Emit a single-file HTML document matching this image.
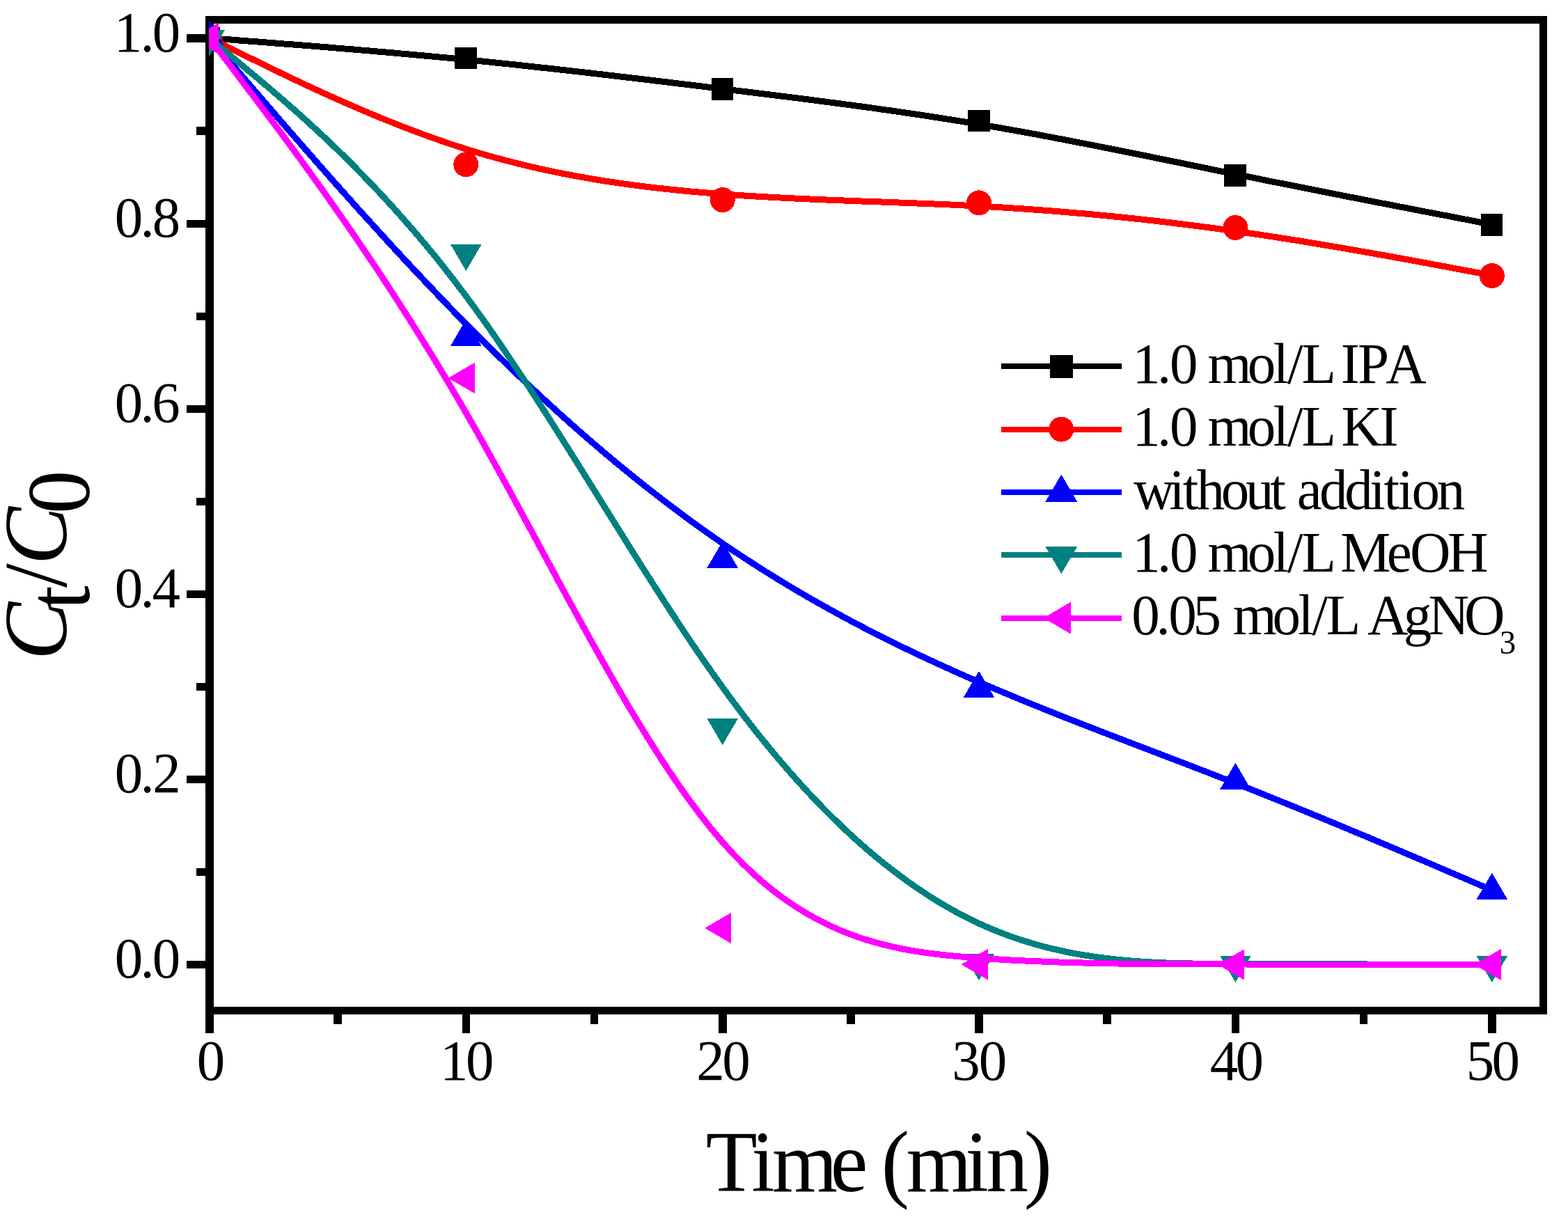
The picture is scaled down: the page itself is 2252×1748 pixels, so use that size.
<!DOCTYPE html>
<html lang="en"><head><meta charset="utf-8"><title>Ct/C0 vs Time</title>
<style>html,body{margin:0;padding:0;background:#fff}body{width:2252px;height:1748px;overflow:hidden}svg{display:block}text{font-family:"Liberation Serif","Times New Roman",serif;fill:#000;font-kerning:none;font-variant-ligatures:none;white-space:pre}</style></head><body>
<svg width="2252" height="1748" viewBox="0 0 2252 1748">
<rect width="2252" height="1748" fill="#fff"/>
<defs><clipPath id="plot"><rect x="300" y="23" width="1922" height="1434"/></clipPath></defs>
<g shape-rendering="crispEdges" fill="#000">
<rect x="295" y="23" width="1927" height="11"/>
<rect x="295" y="1446" width="1927" height="11"/>
<rect x="295" y="23" width="12" height="1434"/>
<rect x="2211" y="23" width="11" height="1434"/>
<rect x="268" y="1379.7" width="28" height="11.6"/>
<rect x="282" y="1246.7" width="14" height="11.6"/>
<rect x="268" y="1113.6" width="28" height="11.6"/>
<rect x="282" y="980.6" width="14" height="11.6"/>
<rect x="268" y="847.6" width="28" height="11.6"/>
<rect x="282" y="714.6" width="14" height="11.6"/>
<rect x="268" y="581.5" width="28" height="11.6"/>
<rect x="282" y="448.5" width="14" height="11.6"/>
<rect x="268" y="315.5" width="28" height="11.6"/>
<rect x="282" y="182.4" width="14" height="11.6"/>
<rect x="268" y="49.4" width="28" height="11.6"/>
<rect x="295.1" y="1456" width="11.6" height="28"/>
<rect x="479.3" y="1456" width="11.6" height="14.5"/>
<rect x="663.5" y="1456" width="11.6" height="28"/>
<rect x="847.7" y="1456" width="11.6" height="14.5"/>
<rect x="1031.9" y="1456" width="11.6" height="28"/>
<rect x="1216.0" y="1456" width="11.6" height="14.5"/>
<rect x="1400.2" y="1456" width="11.6" height="28"/>
<rect x="1584.4" y="1456" width="11.6" height="14.5"/>
<rect x="1768.6" y="1456" width="11.6" height="28"/>
<rect x="1952.8" y="1456" width="11.6" height="14.5"/>
<rect x="2137.0" y="1456" width="11.6" height="28"/>
</g>
<text transform="scale(0.975,1)" x="168.99 206.55 224.38" y="1404.0" font-size="83" >0.0</text>
<text transform="scale(0.975,1)" x="168.99 206.55 224.84" y="1137.9" font-size="83" >0.2</text>
<text transform="scale(0.975,1)" x="168.99 206.55 224.22" y="871.9" font-size="83" >0.4</text>
<text transform="scale(0.975,1)" x="168.99 206.55 223.83" y="605.8" font-size="83" >0.6</text>
<text transform="scale(0.975,1)" x="168.99 206.55 224.38" y="339.8" font-size="83" >0.8</text>
<text transform="scale(0.975,1)" x="167.84 206.55 224.38" y="73.7" font-size="83" >1.0</text>
<text transform="scale(0.975,1)" x="290.02" y="1551.0" font-size="83" >0</text>
<text transform="scale(0.975,1)" x="648.23 686.10" y="1551.0" font-size="83" >10</text>
<text transform="scale(0.975,1)" x="1026.03 1063.93" y="1551.0" font-size="83" >20</text>
<text transform="scale(0.975,1)" x="1402.41 1441.75" y="1551.0" font-size="83" >30</text>
<text transform="scale(0.975,1)" x="1782.29 1819.99" y="1551.0" font-size="83" >40</text>
<text transform="scale(0.975,1)" x="2159.69 2197.51" y="1551.0" font-size="83" >50</text>
<g clip-path="url(#plot)" shape-rendering="crispEdges">
<path d="M300.9,54.7 L300.9,54.7 L300.9,54.7 L301.0,54.7 L301.2,54.7 L301.5,54.7 L301.9,54.8 L302.4,54.8 L303.2,54.9 L304.1,54.9 L305.3,55.0 L306.8,55.2 L308.6,55.3 L310.7,55.5 L313.1,55.6 L315.9,55.9 L319.1,56.1 L322.7,56.4 L326.8,56.7 L331.4,57.0 L336.4,57.4 L342.0,57.9 L348.2,58.3 L354.9,58.9 L362.3,59.4 L370.3,60.0 L378.9,60.7 L388.1,61.4 L397.8,62.2 L408.1,63.0 L418.9,63.8 L430.2,64.7 L441.9,65.6 L454.0,66.6 L466.6,67.6 L479.5,68.7 L492.8,69.8 L506.4,70.9 L520.2,72.1 L534.4,73.3 L548.8,74.6 L563.4,75.8 L578.1,77.2 L593.1,78.5 L608.2,79.9 L623.4,81.3 L638.6,82.7 L653.9,84.2 L669.3,85.7 L684.6,87.2 L700.0,88.8 L715.3,90.4 L730.7,92.0 L746.0,93.6 L761.4,95.3 L776.7,97.0 L792.1,98.6 L807.4,100.4 L822.8,102.1 L838.1,103.8 L853.5,105.6 L868.8,107.4 L884.2,109.2 L899.5,111.0 L914.9,112.8 L930.2,114.6 L945.6,116.5 L960.9,118.3 L976.3,120.2 L991.6,122.0 L1007.0,123.9 L1022.3,125.8 L1037.7,127.6 L1053.0,129.5 L1068.4,131.4 L1083.7,133.3 L1099.1,135.2 L1114.4,137.1 L1129.8,139.0 L1145.1,140.9 L1160.5,142.9 L1175.8,144.9 L1191.2,146.9 L1206.5,148.9 L1221.8,150.9 L1237.2,153.0 L1252.5,155.1 L1267.9,157.3 L1283.2,159.4 L1298.6,161.7 L1313.9,163.9 L1329.3,166.2 L1344.6,168.6 L1360.0,171.0 L1375.3,173.4 L1390.7,175.9 L1406.0,178.5 L1421.4,181.1 L1436.7,183.7 L1452.1,186.5 L1467.4,189.2 L1482.8,192.0 L1498.1,194.9 L1513.5,197.8 L1528.8,200.7 L1544.2,203.7 L1559.5,206.7 L1574.9,209.7 L1590.2,212.7 L1605.6,215.8 L1620.9,218.9 L1636.3,222.0 L1651.6,225.1 L1667.0,228.3 L1682.3,231.4 L1697.7,234.5 L1713.0,237.7 L1728.4,240.8 L1743.7,244.0 L1759.1,247.1 L1774.4,250.2 L1789.8,253.3 L1805.1,256.4 L1820.3,259.5 L1835.5,262.5 L1850.6,265.5 L1865.6,268.5 L1880.3,271.4 L1894.9,274.3 L1909.3,277.2 L1923.5,279.9 L1937.3,282.7 L1950.9,285.3 L1964.2,287.9 L1977.1,290.5 L1989.7,292.9 L2001.8,295.3 L2013.5,297.5 L2024.8,299.7 L2035.6,301.8 L2045.9,303.8 L2055.6,305.7 L2064.8,307.4 L2073.4,309.1 L2081.4,310.6 L2088.8,312.1 L2095.5,313.4 L2101.7,314.6 L2107.3,315.6 L2112.3,316.6 L2116.9,317.5 L2121.0,318.3 L2124.6,319.0 L2127.8,319.6 L2130.6,320.1 L2133.0,320.6 L2135.1,321.0 L2136.9,321.3 L2138.4,321.6 L2139.6,321.9 L2140.5,322.1 L2141.3,322.2 L2141.8,322.3 L2142.2,322.4 L2142.5,322.4 L2142.7,322.5 L2142.8,322.5 L2142.8,322.5 L2142.8,322.5" fill="none" stroke-width="9" stroke-linejoin="round" stroke="#000000"/>
<rect x="284.8" y="39.4" width="31.6" height="31.6" fill="#000000"/>
<rect x="653.2" y="67.7" width="31.6" height="31.6" fill="#000000"/>
<rect x="1021.6" y="112.2" width="31.6" height="31.6" fill="#000000"/>
<rect x="1389.9" y="157.7" width="31.6" height="31.6" fill="#000000"/>
<rect x="1758.3" y="236.2" width="31.6" height="31.6" fill="#000000"/>
<rect x="2126.7" y="307.2" width="31.6" height="31.6" fill="#000000"/>
<path d="M300.9,54.7 L300.9,54.7 L300.9,54.7 L301.0,54.8 L301.2,54.8 L301.5,55.0 L301.9,55.2 L302.4,55.4 L303.2,55.8 L304.1,56.3 L305.3,56.9 L306.8,57.6 L308.6,58.5 L310.7,59.5 L313.1,60.7 L315.9,62.1 L319.1,63.6 L322.7,65.4 L326.8,67.4 L331.4,69.7 L336.4,72.2 L342.0,74.9 L348.2,77.9 L354.9,81.3 L362.3,84.9 L370.3,88.8 L378.9,93.0 L388.1,97.5 L397.8,102.2 L408.1,107.2 L418.9,112.4 L430.2,117.7 L441.9,123.2 L454.0,128.8 L466.6,134.6 L479.5,140.4 L492.8,146.3 L506.4,152.2 L520.2,158.2 L534.4,164.2 L548.8,170.1 L563.4,176.0 L578.1,181.8 L593.1,187.5 L608.2,193.2 L623.4,198.6 L638.6,204.0 L653.9,209.1 L669.3,214.0 L684.6,218.8 L700.0,223.3 L715.3,227.5 L730.7,231.6 L746.0,235.5 L761.4,239.2 L776.7,242.7 L792.1,246.0 L807.4,249.1 L822.8,252.1 L838.1,254.8 L853.5,257.5 L868.8,260.0 L884.2,262.3 L899.5,264.5 L914.9,266.5 L930.2,268.5 L945.6,270.3 L960.9,271.9 L976.3,273.5 L991.6,275.0 L1007.0,276.3 L1022.3,277.6 L1037.7,278.8 L1053.0,279.9 L1068.4,281.0 L1083.7,281.9 L1099.1,282.8 L1114.4,283.7 L1129.8,284.4 L1145.1,285.2 L1160.5,285.9 L1175.8,286.5 L1191.2,287.2 L1206.5,287.8 L1221.8,288.4 L1237.2,289.0 L1252.5,289.5 L1267.9,290.1 L1283.2,290.7 L1298.6,291.3 L1313.9,291.9 L1329.3,292.5 L1344.6,293.1 L1360.0,293.8 L1375.3,294.5 L1390.7,295.3 L1406.0,296.1 L1421.4,296.9 L1436.7,297.8 L1452.1,298.8 L1467.4,299.8 L1482.8,300.9 L1498.1,302.0 L1513.5,303.2 L1528.8,304.5 L1544.2,305.8 L1559.5,307.1 L1574.9,308.5 L1590.2,310.0 L1605.6,311.5 L1620.9,313.1 L1636.3,314.7 L1651.6,316.4 L1667.0,318.2 L1682.3,320.0 L1697.7,321.9 L1713.0,323.8 L1728.4,325.8 L1743.7,327.8 L1759.1,329.9 L1774.4,332.0 L1789.8,334.3 L1805.1,336.5 L1820.3,338.8 L1835.5,341.2 L1850.6,343.5 L1865.6,345.9 L1880.3,348.3 L1894.9,350.7 L1909.3,353.1 L1923.5,355.5 L1937.3,357.9 L1950.9,360.3 L1964.2,362.6 L1977.1,364.9 L1989.7,367.1 L2001.8,369.3 L2013.5,371.4 L2024.8,373.5 L2035.6,375.5 L2045.9,377.4 L2055.6,379.2 L2064.8,380.9 L2073.4,382.5 L2081.4,384.0 L2088.8,385.4 L2095.5,386.7 L2101.7,387.8 L2107.3,388.9 L2112.3,389.8 L2116.9,390.7 L2121.0,391.4 L2124.6,392.1 L2127.8,392.7 L2130.6,393.2 L2133.0,393.7 L2135.1,394.1 L2136.9,394.4 L2138.4,394.7 L2139.6,394.9 L2140.5,395.1 L2141.3,395.2 L2141.8,395.3 L2142.2,395.4 L2142.5,395.5 L2142.7,395.5 L2142.8,395.5 L2142.8,395.5 L2142.8,395.5" fill="none" stroke-width="9" stroke-linejoin="round" stroke="#ff0000"/>
<circle cx="300.9" cy="55.2" r="18.0" fill="#ff0000"/>
<circle cx="669.3" cy="236.3" r="18.0" fill="#ff0000"/>
<circle cx="1037.7" cy="287.1" r="18.0" fill="#ff0000"/>
<circle cx="1406.0" cy="291.3" r="18.0" fill="#ff0000"/>
<circle cx="1774.4" cy="327.0" r="18.0" fill="#ff0000"/>
<circle cx="2142.8" cy="396.0" r="18.0" fill="#ff0000"/>
<path d="M300.9,54.7 L300.9,54.7 L300.9,54.7 L301.0,54.8 L301.2,55.0 L301.5,55.3 L301.9,55.8 L302.4,56.5 L303.2,57.3 L304.1,58.5 L305.3,59.9 L306.8,61.6 L308.6,63.6 L310.7,66.1 L313.1,68.9 L315.9,72.2 L319.1,75.9 L322.7,80.1 L326.8,84.9 L331.4,90.2 L336.4,96.1 L342.0,102.6 L348.2,109.8 L354.9,117.6 L362.3,126.2 L370.3,135.5 L378.9,145.5 L388.1,156.2 L397.8,167.5 L408.1,179.4 L418.9,191.8 L430.2,204.7 L441.9,218.2 L454.0,232.0 L466.6,246.3 L479.5,260.9 L492.8,275.8 L506.4,291.0 L520.2,306.4 L534.4,322.0 L548.8,337.8 L563.4,353.8 L578.1,369.7 L593.1,385.8 L608.2,401.8 L623.4,417.8 L638.6,433.8 L653.9,449.6 L669.3,465.3 L684.6,480.7 L700.0,496.0 L715.3,511.1 L730.7,526.0 L746.0,540.7 L761.4,555.2 L776.7,569.5 L792.1,583.6 L807.4,597.5 L822.8,611.2 L838.1,624.7 L853.5,638.0 L868.8,651.0 L884.2,663.9 L899.5,676.5 L914.9,688.9 L930.2,701.1 L945.6,713.1 L960.9,724.9 L976.3,736.4 L991.6,747.8 L1007.0,758.9 L1022.3,769.7 L1037.7,780.4 L1053.0,790.8 L1068.4,800.9 L1083.7,810.9 L1099.1,820.7 L1114.4,830.2 L1129.8,839.6 L1145.1,848.7 L1160.5,857.7 L1175.8,866.4 L1191.2,875.0 L1206.5,883.4 L1221.8,891.7 L1237.2,899.8 L1252.5,907.7 L1267.9,915.5 L1283.2,923.1 L1298.6,930.6 L1313.9,938.0 L1329.3,945.2 L1344.6,952.3 L1360.0,959.3 L1375.3,966.2 L1390.7,973.0 L1406.0,979.7 L1421.4,986.2 L1436.7,992.7 L1452.1,999.1 L1467.4,1005.5 L1482.8,1011.7 L1498.1,1017.9 L1513.5,1024.1 L1528.8,1030.2 L1544.2,1036.2 L1559.5,1042.2 L1574.9,1048.2 L1590.2,1054.1 L1605.6,1060.0 L1620.9,1065.9 L1636.3,1071.8 L1651.6,1077.6 L1667.0,1083.5 L1682.3,1089.4 L1697.7,1095.2 L1713.0,1101.1 L1728.4,1107.1 L1743.7,1113.0 L1759.1,1119.0 L1774.4,1125.0 L1789.8,1131.1 L1805.1,1137.1 L1820.3,1143.3 L1835.5,1149.4 L1850.6,1155.5 L1865.6,1161.6 L1880.3,1167.6 L1894.9,1173.6 L1909.3,1179.6 L1923.5,1185.4 L1937.3,1191.2 L1950.9,1196.9 L1964.2,1202.4 L1977.1,1207.9 L1989.7,1213.2 L2001.8,1218.3 L2013.5,1223.3 L2024.8,1228.1 L2035.6,1232.7 L2045.9,1237.0 L2055.6,1241.2 L2064.8,1245.1 L2073.4,1248.8 L2081.4,1252.3 L2088.8,1255.4 L2095.5,1258.3 L2101.7,1260.9 L2107.3,1263.3 L2112.3,1265.5 L2116.9,1267.5 L2121.0,1269.2 L2124.6,1270.8 L2127.8,1272.2 L2130.6,1273.4 L2133.0,1274.4 L2135.1,1275.3 L2136.9,1276.0 L2138.4,1276.7 L2139.6,1277.2 L2140.5,1277.6 L2141.3,1277.9 L2141.8,1278.2 L2142.2,1278.3 L2142.5,1278.5 L2142.7,1278.5 L2142.8,1278.6 L2142.8,1278.6 L2142.8,1278.6" fill="none" stroke-width="9" stroke-linejoin="round" stroke="#0000ff"/>
<polygon points="278.6,67.9 323.2,67.9 300.9,29.7" fill="#0000ff"/>
<polygon points="647.0,496.8 691.6,496.8 669.3,458.6" fill="#0000ff"/>
<polygon points="1015.4,815.7 1060.0,815.7 1037.7,777.5" fill="#0000ff"/>
<polygon points="1383.7,1001.9 1428.3,1001.9 1406.0,963.7" fill="#0000ff"/>
<polygon points="1752.1,1133.9 1796.7,1133.9 1774.4,1095.7" fill="#0000ff"/>
<polygon points="2120.5,1291.8 2165.1,1291.8 2142.8,1253.6" fill="#0000ff"/>
<path d="M300.9,54.7 L300.9,54.7 L300.9,54.7 L301.0,54.8 L301.2,54.9 L301.5,55.2 L301.9,55.5 L302.4,56.0 L303.2,56.6 L304.1,57.4 L305.3,58.4 L306.8,59.7 L308.6,61.1 L310.7,62.9 L313.1,64.9 L315.9,67.3 L319.1,69.9 L322.7,73.0 L326.8,76.4 L331.4,80.2 L336.4,84.5 L342.0,89.1 L348.2,94.3 L354.9,100.0 L362.3,106.1 L370.3,112.8 L378.9,120.0 L388.1,127.8 L397.8,136.2 L408.1,145.0 L418.9,154.5 L430.2,164.5 L441.9,175.1 L454.0,186.2 L466.6,197.9 L479.5,210.2 L492.8,223.1 L506.4,236.6 L520.2,250.7 L534.4,265.4 L548.8,280.7 L563.4,296.6 L578.1,313.1 L593.1,330.2 L608.2,347.9 L623.4,366.3 L638.6,385.3 L653.9,405.0 L669.3,425.3 L684.6,446.2 L700.0,467.7 L715.3,489.8 L730.7,512.4 L746.0,535.4 L761.4,558.7 L776.7,582.5 L792.1,606.5 L807.4,630.7 L822.8,655.1 L838.1,679.7 L853.5,704.3 L868.8,729.0 L884.2,753.6 L899.5,778.1 L914.9,802.6 L930.2,826.8 L945.6,850.8 L960.9,874.5 L976.3,897.9 L991.6,920.9 L1007.0,943.5 L1022.3,965.5 L1037.7,987.0 L1053.0,1008.0 L1068.4,1028.3 L1083.7,1048.1 L1099.1,1067.2 L1114.4,1085.8 L1129.8,1103.7 L1145.1,1121.1 L1160.5,1137.9 L1175.8,1154.1 L1191.2,1169.7 L1206.5,1184.7 L1221.8,1199.1 L1237.2,1213.0 L1252.5,1226.2 L1267.9,1238.9 L1283.2,1250.9 L1298.6,1262.4 L1313.9,1273.3 L1329.3,1283.6 L1344.6,1293.4 L1360.0,1302.5 L1375.3,1311.1 L1390.7,1319.0 L1406.0,1326.4 L1421.4,1333.2 L1436.7,1339.5 L1452.1,1345.2 L1467.4,1350.4 L1482.8,1355.1 L1498.1,1359.4 L1513.5,1363.2 L1528.8,1366.6 L1544.2,1369.7 L1559.5,1372.3 L1574.9,1374.6 L1590.2,1376.6 L1605.6,1378.3 L1620.9,1379.8 L1636.3,1380.9 L1651.6,1381.9 L1667.0,1382.7 L1682.3,1383.3 L1697.7,1383.7 L1713.0,1384.0 L1728.4,1384.3 L1743.7,1384.4 L1759.1,1384.5 L1774.4,1384.6 L1789.8,1384.6 L1805.1,1384.7 L1820.3,1384.7 L1835.5,1384.7 L1850.6,1384.8 L1865.6,1384.8 L1880.3,1384.8 L1894.9,1384.9 L1909.3,1384.9 L1923.5,1384.9 L1937.3,1384.9 L1950.9,1384.9 L1964.2,1385.0 L1977.1,1385.0 L1989.7,1385.0 L2001.8,1385.0 L2013.5,1385.0 L2024.8,1385.0 L2035.6,1385.0 L2045.9,1385.0 L2055.6,1385.0 L2064.8,1385.0 L2073.4,1385.0 L2081.4,1385.0 L2088.8,1385.0 L2095.5,1385.0 L2101.7,1385.0 L2107.3,1385.0 L2112.3,1385.0 L2116.9,1385.0 L2121.0,1385.0 L2124.6,1385.0 L2127.8,1385.0 L2130.6,1385.0 L2133.0,1385.0 L2135.1,1385.0 L2136.9,1385.0 L2138.4,1385.0 L2139.6,1385.0 L2140.5,1385.0 L2141.3,1385.0 L2141.8,1385.0 L2142.2,1385.0 L2142.5,1385.0 L2142.7,1385.0 L2142.8,1385.0 L2142.8,1385.0 L2142.8,1385.0" fill="none" stroke-width="9" stroke-linejoin="round" stroke="#008080"/>
<polygon points="278.6,42.5 323.2,42.5 300.9,80.7" fill="#008080"/>
<polygon points="647.0,351.0 691.6,351.0 669.3,389.2" fill="#008080"/>
<polygon points="1015.4,1031.9 1060.0,1031.9 1037.7,1070.1" fill="#008080"/>
<polygon points="1383.7,1370.1 1428.3,1370.1 1406.0,1408.3" fill="#008080"/>
<polygon points="1752.1,1372.8 1796.7,1372.8 1774.4,1411.0" fill="#008080"/>
<polygon points="2120.5,1372.8 2165.1,1372.8 2142.8,1411.0" fill="#008080"/>
<path d="M300.9,54.7 L300.9,54.7 L300.9,54.7 L301.0,54.9 L301.2,55.1 L301.5,55.4 L301.9,56.0 L302.4,56.7 L303.2,57.7 L304.1,59.0 L305.3,60.6 L306.8,62.5 L308.6,64.9 L310.7,67.6 L313.1,70.8 L315.9,74.5 L319.1,78.8 L322.7,83.6 L326.8,89.0 L331.4,95.0 L336.4,101.8 L342.0,109.2 L348.2,117.3 L354.9,126.3 L362.3,136.0 L370.3,146.6 L378.9,158.0 L388.1,170.2 L397.8,183.3 L408.1,197.1 L418.9,211.7 L430.2,227.1 L441.9,243.3 L454.0,260.1 L466.6,277.7 L479.5,296.1 L492.8,315.1 L506.4,334.8 L520.2,355.1 L534.4,376.2 L548.8,397.8 L563.4,420.2 L578.1,443.1 L593.1,466.6 L608.2,490.7 L623.4,515.4 L638.6,540.7 L653.9,566.5 L669.3,592.9 L684.6,619.7 L700.0,647.1 L715.3,674.8 L730.7,702.7 L746.0,731.0 L761.4,759.3 L776.7,787.8 L792.1,816.2 L807.4,844.6 L822.8,872.8 L838.1,900.7 L853.5,928.4 L868.8,955.7 L884.2,982.6 L899.5,1008.9 L914.9,1034.6 L930.2,1059.6 L945.6,1083.9 L960.9,1107.3 L976.3,1129.9 L991.6,1151.4 L1007.0,1172.0 L1022.3,1191.3 L1037.7,1209.5 L1053.0,1226.4 L1068.4,1242.1 L1083.7,1256.6 L1099.1,1270.0 L1114.4,1282.3 L1129.8,1293.5 L1145.1,1303.8 L1160.5,1313.1 L1175.8,1321.6 L1191.2,1329.2 L1206.5,1336.0 L1221.8,1342.1 L1237.2,1347.6 L1252.5,1352.3 L1267.9,1356.5 L1283.2,1360.2 L1298.6,1363.4 L1313.9,1366.1 L1329.3,1368.4 L1344.6,1370.4 L1360.0,1372.2 L1375.3,1373.6 L1390.7,1374.9 L1406.0,1376.1 L1421.4,1377.1 L1436.7,1378.1 L1452.1,1379.0 L1467.4,1379.8 L1482.8,1380.5 L1498.1,1381.1 L1513.5,1381.7 L1528.8,1382.3 L1544.2,1382.7 L1559.5,1383.1 L1574.9,1383.5 L1590.2,1383.8 L1605.6,1384.0 L1620.9,1384.3 L1636.3,1384.4 L1651.6,1384.6 L1667.0,1384.7 L1682.3,1384.8 L1697.7,1384.8 L1713.0,1384.9 L1728.4,1384.9 L1743.7,1384.9 L1759.1,1384.9 L1774.4,1385.0 L1789.8,1385.0 L1805.1,1385.0 L1820.3,1385.0 L1835.5,1385.0 L1850.6,1385.0 L1865.6,1385.0 L1880.3,1385.0 L1894.9,1385.0 L1909.3,1385.0 L1923.5,1385.0 L1937.3,1385.0 L1950.9,1385.0 L1964.2,1385.0 L1977.1,1385.0 L1989.7,1385.0 L2001.8,1385.0 L2013.5,1385.0 L2024.8,1385.0 L2035.6,1385.0 L2045.9,1385.0 L2055.6,1385.0 L2064.8,1385.0 L2073.4,1385.0 L2081.4,1385.0 L2088.8,1385.0 L2095.5,1385.0 L2101.7,1385.0 L2107.3,1385.0 L2112.3,1385.0 L2116.9,1385.0 L2121.0,1385.0 L2124.6,1385.0 L2127.8,1385.0 L2130.6,1385.0 L2133.0,1385.0 L2135.1,1385.0 L2136.9,1385.0 L2138.4,1385.0 L2139.6,1385.0 L2140.5,1385.0 L2141.3,1385.0 L2141.8,1385.0 L2142.2,1385.0 L2142.5,1385.0 L2142.7,1385.0 L2142.8,1385.0 L2142.8,1385.0 L2142.8,1385.0" fill="none" stroke-width="9" stroke-linejoin="round" stroke="#ff00ff"/>
<polygon points="313.6,32.9 313.6,77.5 275.4,55.2" fill="#ff00ff"/>
<polygon points="682.0,520.7 682.0,565.3 643.8,543.0" fill="#ff00ff"/>
<polygon points="1050.4,1310.7 1050.4,1355.3 1012.2,1333.0" fill="#ff00ff"/>
<polygon points="1418.8,1362.9 1418.8,1407.5 1380.6,1385.2" fill="#ff00ff"/>
<polygon points="1787.2,1363.2 1787.2,1407.8 1749.0,1385.5" fill="#ff00ff"/>
<polygon points="2155.5,1363.2 2155.5,1407.8 2117.3,1385.5" fill="#ff00ff"/>
</g>
<g shape-rendering="crispEdges">
<rect x="1438" y="522.2" width="173" height="8" fill="#000000"/>
<rect x="1507.5" y="509.7" width="33" height="33" fill="#000000"/>
<rect x="1438" y="612.6" width="173" height="8" fill="#ff0000"/>
<circle cx="1524.3" cy="616.6" r="18.0" fill="#ff0000"/>
<rect x="1438" y="702.9" width="173" height="8" fill="#0000ff"/>
<polygon points="1501.3,720.8 1547.3,720.8 1524.3,681.5" fill="#0000ff"/>
<rect x="1438" y="793.2" width="173" height="8" fill="#008080"/>
<polygon points="1501.3,784.9 1547.3,784.9 1524.3,824.2" fill="#008080"/>
<rect x="1438" y="883.6" width="173" height="8" fill="#ff00ff"/>
<polygon points="1537.9,864.6 1537.9,910.6 1498.6,887.6" fill="#ff00ff"/>
</g>
<text transform="scale(0.975,1)" x="1667.84 1704.61 1722.99 1759.76 1778.87 1837.62 1875.39 1896.38 1917.36 1963.50 1975.26 1999.99 2041.28" y="549.8" font-size="83" >1.0 mol/L IPA</text>
<text transform="scale(0.975,1)" x="1667.84 1704.61 1722.99 1759.76 1778.87 1837.62 1875.39 1896.38 1917.36 1963.50 1975.94 2032.23" y="640.3" font-size="83" >1.0 mol/L KI</text>
<text transform="scale(0.975,1)" x="1670.07 1722.33 1742.43 1762.53 1798.71 1834.89 1871.07 1891.17 1910.62 1943.55 1980.65 2017.74 2038.36 2058.97 2079.58 2116.68" y="730.8" font-size="83" >without addition</text>
<text transform="scale(0.975,1)" x="1667.84 1704.61 1722.99 1759.76 1778.87 1837.62 1875.39 1896.38 1917.36 1963.50 1974.74 2042.92 2076.96 2132.34" y="820.9" font-size="83" >1.0 mol/L MeOH</text>
<text transform="scale(0.975,1)" x="1666.99 1703.13 1721.20 1757.33 1793.47 1816.21 1874.48 1911.94 1932.75 1953.57 1999.33 2014.37 2067.35 2104.03 2157.00" y="911.5" font-size="83" >0.05 mol/L AgNO<tspan x="2208.92" dy="28" font-size="48">3</tspan></text>
<text transform="scale(0.975,1)" x="1039.71 1106.97 1137.56 1223.21 1272.08 1298.14 1335.21 1421.78 1452.71 1508.36" y="1710.8" font-size="124" >Time (min)</text>
<text transform="translate(95.3,948.0) rotate(-90) scale(0.97,1)" font-size="129" x="0 74.6 107.2 141.1 216.4" y="0 32.6 0 0 32.6"><tspan font-style="italic">C</tspan>t/<tspan font-style="italic">C</tspan>0</text>
</svg></body></html>
